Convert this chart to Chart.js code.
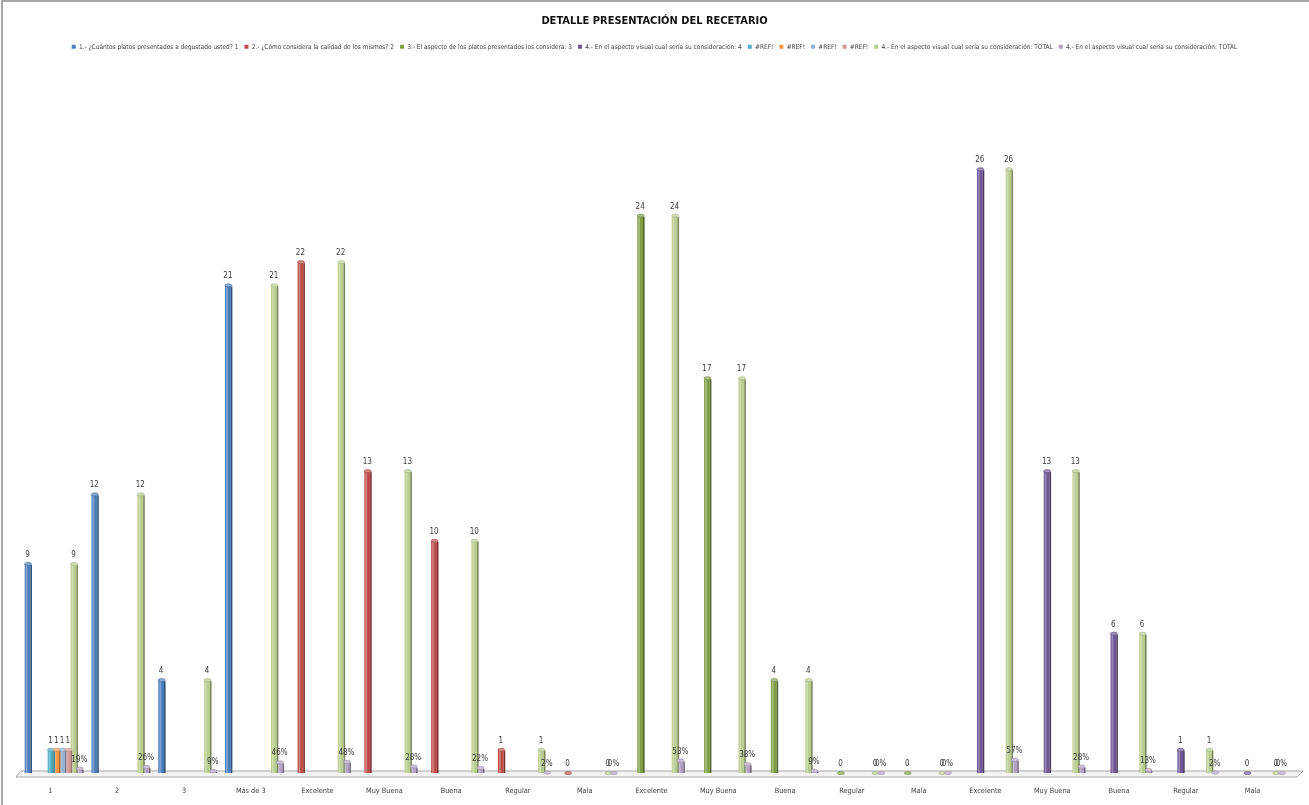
<!DOCTYPE html>
<html>
<head>
<meta charset="utf-8">
<script src="https://cdn.jsdelivr.net/npm/chart.js@4.4.0/dist/chart.umd.min.js"></script>
<style>
  html, body { margin: 0; padding: 0; background: #ffffff; }
  #wrap { width: 1309px; height: 805px; position: relative; }
</style>
</head>
<body>
<div id="wrap"><canvas id="chart" width="1309" height="805"></canvas></div>
<script>
// Answer categories along the axis (four survey questions, one after the other)
const categories = ['1', '2', '3', 'Más de 3',
  'Excelente', 'Muy Buena', 'Buena', 'Regular', 'Mala',
  'Excelente', 'Muy Buena', 'Buena', 'Regular', 'Mala',
  'Excelente', 'Muy Buena', 'Buena', 'Regular', 'Mala'];

const seriesNames = [
  '1.- ¿Cuántos platos presentados a degustado usted? 1',
  '2.- ¿Cómo considera la calidad de los mismos? 2',
  '3.- El aspecto de los platos presentados los considera: 3',
  '4.- En el aspecto visual cual sería su consideración: 4',
  '#REF!', '#REF!', '#REF!', '#REF!',
  '4.- En el aspecto visual cual sería su consideración: TOTAL',
  '4.- En el aspecto visual cual sería su consideración: TOTAL'
];

// Answers per question
const q1Counts = [9, 12, 4, 21];
const q2Counts = [22, 13, 10, 1, 0];
const q3Counts = [24, 17, 4, 0, 0];
const q4Counts = [26, 13, 6, 1, 0];
const refCounts = [1];

// Totals for every category and their share of each question
const totalCounts = [9, 12, 4, 21, 22, 13, 10, 1, 0, 24, 17, 4, 0, 0, 26, 13, 6, 1, 0];
const totalShares = [0.19, 0.26, 0.09, 0.46, 0.48, 0.28, 0.22, 0.02, 0, 0.53, 0.38, 0.09, 0, 0, 0.57, 0.28, 0.13, 0.02, 0];

const seriesColors = ['#4a7ebb', '#be4b48', '#7f9f45', '#6f5796',
  '#4bacc6', '#f79646', '#95b3d7', '#d99694', '#b9cd8e', '#b3a2c7'];

const FONT = '"Liberation Sans Narrow", "DejaVu Sans Condensed", "Liberation Sans", sans-serif';

// spread a question's values onto its block of categories
function place(values, start) {
  const out = categories.map(() => null);
  values.forEach((v, k) => { out[start + k] = v; });
  return out;
}

const seriesData = [
  place(q1Counts, 0),
  place(q2Counts, 4),
  place(q3Counts, 9),
  place(q4Counts, 14),
  place(refCounts, 0),
  place(refCounts, 0),
  place(refCounts, 0),
  place(refCounts, 0),
  totalCounts.slice(),
  totalShares.slice()
];

function shade(hex, amt) {
  const n = parseInt(hex.slice(1), 16);
  let r = (n >> 16) & 255, g = (n >> 8) & 255, b = n & 255;
  if (amt >= 0) {
    r = r + (255 - r) * amt; g = g + (255 - g) * amt; b = b + (255 - b) * amt;
  } else {
    r = r * (1 + amt); g = g * (1 + amt); b = b * (1 + amt);
  }
  return 'rgb(' + Math.round(r) + ',' + Math.round(g) + ',' + Math.round(b) + ')';
}

// chart frame and the thin 3D floor under the columns
const framePlugin = {
  id: 'frame',
  beforeDraw(chart) {
    const ctx = chart.ctx;
    ctx.save();
    ctx.fillStyle = '#ffffff';
    ctx.fillRect(0, 0, chart.width, chart.height);
    ctx.strokeStyle = '#8c8c8c';
    ctx.lineWidth = 1.5;
    ctx.beginPath();
    ctx.moveTo(2, chart.height);
    ctx.lineTo(2, 1);
    ctx.lineTo(chart.width, 1);
    ctx.stroke();
    ctx.restore();
  },
  beforeDatasetsDraw(chart) {
    const ctx = chart.ctx;
    const { left, right, bottom } = chart.chartArea;
    ctx.save();
    ctx.beginPath();
    ctx.moveTo(left + 1, bottom - 2);
    ctx.lineTo(right + 14, bottom - 2);
    ctx.lineTo(right + 8, bottom + 4);
    ctx.lineTo(left - 4, bottom + 4);
    ctx.closePath();
    ctx.fillStyle = '#f4f4f4';
    ctx.fill();
    ctx.strokeStyle = '#a6a6a6';
    ctx.lineWidth = 1;
    ctx.stroke();
    ctx.restore();
  }
};

// cylinder-like shading on each column plus its value label
const columnPlugin = {
  id: 'columns',
  afterDatasetsDraw(chart) {
    const ctx = chart.ctx;
    ctx.save();
    chart.data.datasets.forEach((ds, i) => {
      const meta = chart.getDatasetMeta(i);
      const base = seriesColors[i];
      meta.data.forEach((el, j) => {
        const v = ds.data[j];
        if (v === null || v === undefined) return;
        const p = el.getProps(['x', 'y', 'base', 'width'], true);
        const l = p.x - p.width / 2;
        const h = p.base - p.y;
        if (h > 0.5) {
          ctx.fillStyle = 'rgba(255,255,255,0.30)';
          ctx.fillRect(l + 1, p.y, p.width * 0.3, h);
          ctx.fillStyle = shade(base, -0.35);
          ctx.fillRect(p.x + p.width / 2, p.y + 1, 1.6, h - 1);
        }
        ctx.beginPath();
        ctx.ellipse(p.x + 0.5, p.y, p.width / 2 + 0.6, 1.6, 0, 0, Math.PI * 2);
        ctx.fillStyle = shade(base, 0.35);
        ctx.fill();
        ctx.strokeStyle = shade(base, -0.15);
        ctx.lineWidth = 0.6;
        ctx.stroke();
      });
    });
    // value labels
    ctx.font = '8px ' + FONT;
    ctx.fillStyle = '#3a3a3a';
    ctx.textAlign = 'center';
    ctx.textBaseline = 'bottom';
    chart.data.datasets.forEach((ds, i) => {
      const meta = chart.getDatasetMeta(i);
      meta.data.forEach((el, j) => {
        const v = ds.data[j];
        if (v === null || v === undefined) return;
        const p = el.getProps(['x', 'y'], true);
        const txt = i === 9 ? Math.round(v * 100) + '%' : String(v);
        ctx.fillText(txt, p.x, p.y - 5);
      });
    });
    ctx.restore();
  }
};

const datasets = seriesData.map((d, i) => ({
  label: seriesNames[i],
  data: d,
  backgroundColor: seriesColors[i],
  borderWidth: 0,
  categoryPercentage: 0.86,
  barPercentage: 1.0
}));

new Chart(document.getElementById('chart'), {
  type: 'bar',
  data: { labels: categories, datasets: datasets },
  plugins: [framePlugin, columnPlugin],
  options: {
    responsive: false,
    animation: false,
    devicePixelRatio: 1,
    layout: { padding: { left: 20, right: 20, top: 0, bottom: 0 } },
    plugins: {
      title: {
        display: true,
        text: 'DETALLE PRESENTACIÓN DEL RECETARIO',
        color: '#111111',
        font: { family: FONT, size: 11, weight: 'bold' },
        padding: { top: 15, bottom: 9.4 }
      },
      legend: {
        position: 'top',
        labels: {
          boxWidth: 4, boxHeight: 4, padding: 6,
          color: '#404040',
          font: { family: FONT, size: 6.5 }
        }
      },
      tooltip: { enabled: false }
    },
    scales: {
      x: {
        grid: { display: false, drawTicks: false },
        border: { display: false },
        afterFit(scale) { scale.height = 32; },
        ticks: {
          padding: 14, labelOffset: -3, color: '#404040', autoSkip: false, maxRotation: 0,
          font: { family: FONT, size: 7.3 }
        }
      },
      y: { display: false, min: 0, max: 30.7 }
    }
  }
});
</script>
</body>
</html>
